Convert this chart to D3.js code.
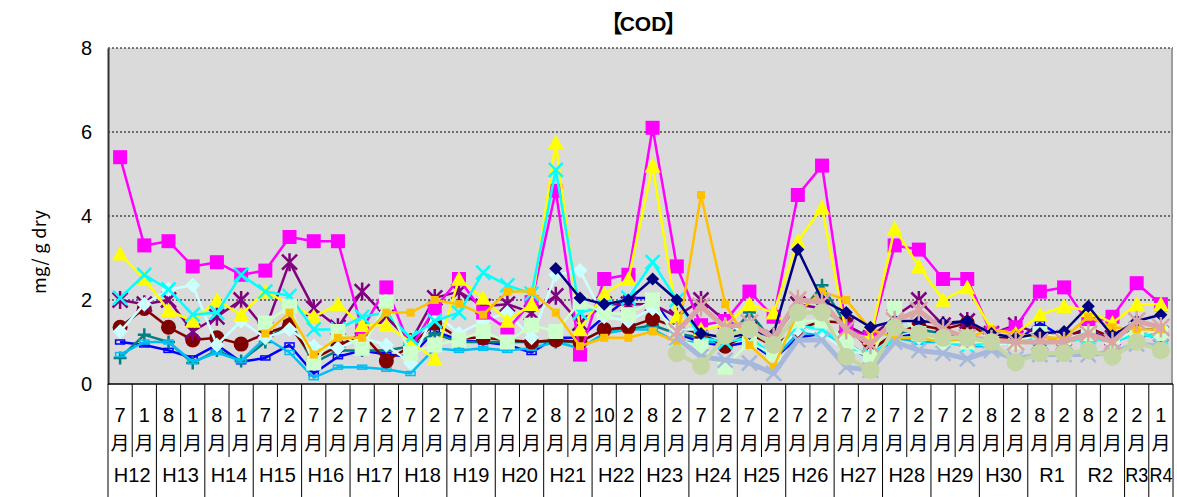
<!DOCTYPE html>
<html>
<head>
<meta charset="utf-8">
<script src="https://cdn.jsdelivr.net/npm/d3@7"></script>
<style>
  body { margin: 0; background: #fff; }
  svg { display: block; }
</style>
</head>
<body>
<div class="chart"></div>
<script>
// categories: month of sampling, grouped by fiscal year
const months = ["7","1","8","1","8","1","7","2","7","2",
                "7","2","7","2","7","2","7","2","8","2",
                "10","2","8","2","7","2","7","2","7","2",
                "7","2","7","2","7","2","8","2","8","2",
                "8","2","2","1"]
const yearNames = ["H12","H13","H14","H15","H16","H17","H18","H19","H20","H21","H22",
                   "H23","H24","H25","H26","H27","H28","H29","H30","R1","R2","R3","R4"]
const yearSpans = [2,2,2,2,2,2,2,2,2,2,2,2,2,2,2,2,2,2,2,2,2,1,1]
const yTicks = [0, 2, 4, 6, 8]

const _ = null
const magenta = [5.4,3.3,3.4,2.8,2.9,2.6,2.7,3.5,3.4,3.4,
                 1.3,2.3,0.85,1.8,2.5,1.7,1.3,1.95,4.6,0.7,
                 2.5,2.6,6.1,2.8,1.4,1.5,2.2,1.6,4.5,5.2,
                 1.3,1.1,3.3,3.2,2.5,2.5,1.2,1.35,2.2,2.3,
                 1.45,1.6,2.4,1.9]
const yellow = [3.1,2.5,1.75,1.5,2.0,1.65,2.2,1.9,1.6,1.9,
                1.4,1.4,1.0,0.6,2.5,2.05,1.5,1.9,5.75,1.3,
                2.15,2.5,5.2,1.6,1.3,1.4,1.9,1.7,3.4,4.2,
                1.2,1.1,3.7,2.8,2.0,2.3,1.3,1.2,1.65,1.85,
                1.75,1.45,1.9,1.9]
const cyan = [2.05,2.6,2.25,1.65,1.7,2.6,2.2,2.1,1.3,1.3,
              1.6,1.7,1.1,1.5,1.7,2.65,2.35,2.15,5.1,1.7,
              1.85,2.05,2.9,2.0,1.1,1.0,1.1,0.7,1.4,1.3,
              0.9,0.7,1.1,1.1,1.0,0.9,1.0,1.0,1.1,1.0,
              1.1,1.0,1.2,1.1]
const purple = [2.0,1.9,2.0,1.25,1.6,2.0,1.3,2.9,1.8,1.35,
                2.2,1.6,1.0,2.05,2.2,1.85,1.9,1.7,2.1,1.45,
                1.9,1.9,1.9,1.6,2.0,1.5,1.3,1.1,1.9,1.8,
                1.4,1.1,1.6,2.0,1.4,1.5,1.2,1.4,1.2,1.1,
                1.2,1.1,1.3,1.2]
const darkRed = [1.35,1.8,1.35,1.05,1.1,0.95,1.2,1.4,0.6,0.9,
                 1.2,0.55,0.9,1.45,1.1,1.1,1.05,1.0,1.05,1.0,
                 1.3,1.35,1.55,1.35,1.2,0.9,1.2,0.9,1.3,1.5,
                 1.45,0.8,1.2,1.4,1.3,1.45,1.1,1.1,1.0,1.1,
                 1.35,1.1,1.3,1.2]
const lightCyan = [1.25,1.9,2.25,2.35,0.93,1.5,1.1,1.3,0.9,0.85,
                   1.1,0.93,0.5,1.7,1.2,1.5,1.7,1.1,2.6,2.7,
                   1.6,1.5,1.8,1.3,1.3,1.5,1.1,0.7,1.3,1.2,
                   0.8,0.7,1.1,1.1,1.0,1.0,0.9,1.0,1.1,1.0,
                   1.1,1.0,1.3,1.2]
const blue = [1.0,0.93,0.8,0.62,0.93,0.53,0.62,0.93,0.25,0.65,
              0.8,0.7,0.65,1.25,1.05,1.0,0.93,0.75,1.1,1.1,
              1.6,2.05,2.05,1.2,1.0,0.9,1.0,0.6,1.1,1.2,
              1.0,0.6,1.1,1.2,1.0,1.1,1.0,1.0,1.45,1.1,
              1.3,1.0,1.3,1.3]
const teal = [0.62,1.17,1.0,0.5,0.8,0.55,1.0,1.5,0.5,0.8,
              0.8,0.8,0.9,1.2,1.0,1.0,1.0,1.0,1.0,1.0,
              1.3,1.3,1.4,1.2,1.1,1.0,1.7,1.0,1.6,2.35,
              1.4,0.8,1.2,1.3,1.2,1.1,1.0,1.0,1.1,1.0,
              1.2,1.0,1.2,1.1]
const skyBlue = [0.7,1.0,1.0,0.53,0.75,0.55,1.1,0.75,0.15,0.4,
                 0.4,0.35,0.25,0.85,0.8,0.85,0.8,0.85,1.0,0.85,
                 1.2,1.3,1.3,1.0,1.0,1.0,1.1,0.6,1.2,1.2,
                 0.9,0.6,1.1,1.0,1.0,0.9,0.9,1.0,1.0,1.0,
                 1.1,1.0,1.2,1.1]
const lightGreen = [_,_,_,_,_,_,1.45,1.85,0.5,1.25,
                    0.85,1.95,0.73,0.93,1.05,1.25,1.0,1.4,1.25,1.95,
                    1.7,1.65,2.0,1.05,0.9,0.4,1.0,0.7,1.5,1.5,
                    1.0,0.6,1.8,1.2,1.0,1.0,1.0,1.0,1.2,1.1,
                    1.2,1.0,1.3,1.2]
const orange = [_,_,_,_,_,_,1.2,1.7,0.7,1.1,
                1.1,1.7,1.7,2.0,1.9,1.65,2.2,2.2,1.7,0.9,
                1.1,1.1,1.25,1.0,4.5,1.9,0.93,0.4,1.7,2.2,
                2.0,1.3,1.1,1.1,1.0,1.1,1.3,1.2,1.1,1.1,
                1.6,1.35,1.3,1.3]
const navy = [_,_,_,_,_,_,_,_,_,_,
              _,_,_,_,_,_,_,_,2.75,2.05,
              1.9,2.0,2.5,2.0,1.2,1.1,1.2,1.2,3.2,2.0,
              1.7,1.35,1.5,1.5,1.45,1.5,1.2,1.1,1.2,1.25,
              1.85,1.15,1.5,1.65]
const steelBlue = [_,_,_,_,_,_,_,_,_,_,
                   _,_,_,_,_,_,_,_,_,_,
                   _,_,_,1.1,0.65,0.57,0.5,0.25,1.05,1.05,
                   0.4,0.33,1.0,0.8,0.73,0.6,0.8,0.6,0.7,0.7,
                   0.7,0.75,0.95,0.9]
const pink = [_,_,_,_,_,_,_,_,_,_,
              _,_,_,_,_,_,_,_,_,_,
              _,_,_,1.25,1.85,1.35,1.45,1.1,2.0,1.95,
              1.3,0.95,1.5,1.75,1.3,1.1,1.05,1.0,1.0,1.0,
              1.2,1.0,1.5,1.35]
const grayGreen = [_,_,_,_,_,_,_,_,_,_,
                   _,_,_,_,_,_,_,_,_,_,
                   _,_,_,0.73,0.43,1.15,1.3,0.93,1.7,1.7,
                   0.65,0.33,1.35,1.2,1.1,1.1,1.0,0.52,0.73,0.73,
                   0.8,0.65,1.0,0.8]

// draw order, bottom to top
const series = [
  { values: blue,       color: "#0000FF", marker: "dash",     size: 9,  width: 2.5 },
  { values: teal,       color: "#008080", marker: "plus",     size: 13, width: 2.5 },
  { values: skyBlue,    color: "#00BFF3", marker: "dash",     size: 9,  width: 2.5 },
  { values: darkRed,    color: "#800000", marker: "circle",   size: 15, width: 2.5 },
  { values: purple,     color: "#800080", marker: "star",     size: 15, width: 2.5 },
  { values: lightCyan,  color: "#CCFFFF", marker: "diamond",  size: 15, width: 2.5 },
  { values: magenta,    color: "#FF00FF", marker: "square",   size: 14, width: 2.5 },
  { values: yellow,     color: "#FFFF00", marker: "triangle", size: 16, width: 2.5 },
  { values: cyan,       color: "#00FFFF", marker: "x",        size: 14, width: 2.5 },
  { values: lightGreen, color: "#CCFFCC", marker: "square",   size: 15, width: 2.5 },
  { values: orange,     color: "#FFC000", marker: "square",   size: 8,  width: 2.5 },
  { values: navy,       color: "#000080", marker: "diamond",  size: 13, width: 2.5 },
  { values: steelBlue,  color: "#A6B9DD", marker: "x",        size: 15, width: 5 },
  { values: pink,       color: "#D9A6A6", marker: "star",     size: 17, width: 5 },
  { values: grayGreen,  color: "#C4D6A4", marker: "circle",   size: 18, width: 4 }
]

const width = 1177, height = 497
const plot = { left: 108, right: 1173, top: 48, bottom: 384 }
const cjk = "'Noto Sans CJK JP', sans-serif"
const latin = "'Liberation Sans', Arial, sans-serif"

const svg = d3.select(".chart").append("svg")
    .attr("width", width)
    .attr("height", height)

const x = d3.scaleBand()
    .domain(d3.range(months.length))
    .range([plot.left, plot.right])
const y = d3.scaleLinear()
    .domain([0, 8])
    .range([plot.bottom, plot.top])
const cx = i => x(i) + x.bandwidth() / 2

// plot background
svg.append("rect")
    .attr("x", plot.left).attr("y", plot.top)
    .attr("width", plot.right - plot.left).attr("height", plot.bottom - plot.top)
    .attr("fill", "#DADADA")

// gridlines
svg.append("g").selectAll("line")
    .data(yTicks.filter(t => t > 0))
    .enter().append("line")
    .attr("x1", plot.left).attr("x2", plot.right)
    .attr("y1", d => y(d)).attr("y2", d => y(d))
    .attr("stroke", "#000").attr("stroke-width", 1)
    .attr("stroke-dasharray", "2,2")

svg.append("line")
    .attr("x1", plot.right - 1).attr("x2", plot.right - 1)
    .attr("y1", plot.top).attr("y2", plot.bottom)
    .attr("stroke", "#888").attr("stroke-width", 1.5)

// y axis
const yAxis = svg.append("g")
    .attr("transform", `translate(${plot.left},0)`)
    .call(d3.axisLeft(y).tickValues(yTicks).tickSize(0).tickPadding(16))
yAxis.select(".domain").attr("stroke", "#333").attr("stroke-width", 2)
yAxis.selectAll("text")
    .attr("font-family", latin).attr("font-size", 20).attr("fill", "#000")

// x axis: base line, category separators and labels
svg.append("line")
    .attr("x1", plot.left).attr("x2", plot.right)
    .attr("y1", plot.bottom).attr("y2", plot.bottom)
    .attr("stroke", "#000").attr("stroke-width", 1.5)

const yearStarts = yearSpans.reduce((acc, s, i) => { acc.push(i === 0 ? 0 : acc[i - 1] + yearSpans[i - 1]); return acc }, [])
const isYearEdge = i => i === 0 || i === months.length || yearStarts.includes(i)

svg.append("g").selectAll("line")
    .data(d3.range(months.length + 1))
    .enter().append("line")
    .attr("x1", i => i < months.length ? x(i) : plot.right)
    .attr("x2", i => i < months.length ? x(i) : plot.right)
    .attr("y1", plot.bottom)
    .attr("y2", i => isYearEdge(i) ? height : 457)
    .attr("stroke", "#000").attr("stroke-width", 1)

const monthLabels = svg.append("g").attr("text-anchor", "middle")
monthLabels.selectAll(".num")
    .data(months)
    .enter().append("text")
    .attr("class", "num")
    .attr("x", (d, i) => cx(i))
    .attr("y", 422)
    .attr("font-family", latin).attr("font-size", 20)
    .attr("textLength", d => d.length > 1 ? 21 : null)
    .attr("lengthAdjust", "spacingAndGlyphs")
    .text(d => d)
monthLabels.selectAll(".tsuki")
    .data(months)
    .enter().append("text")
    .attr("class", "tsuki")
    .attr("x", (d, i) => cx(i))
    .attr("y", 450)
    .attr("font-family", cjk).attr("font-size", 19)
    .text("月")

svg.append("g")
    .attr("font-family", latin).attr("font-size", 20).attr("text-anchor", "middle")
    .selectAll("text")
    .data(yearNames)
    .enter().append("text")
    .attr("x", (d, i) => x(yearStarts[i]) + x.bandwidth() * yearSpans[i] / 2)
    .attr("y", 482)
    .attr("textLength", (d, i) => yearSpans[i] === 1 ? 23 : null)
    .attr("lengthAdjust", "spacingAndGlyphs")
    .text(d => d)

// title (brackets and text set apart) and axis title
const title = svg.append("g").attr("text-anchor", "middle")
title.append("text")
    .attr("x", 643).attr("y", 31)
    .attr("font-family", latin).attr("font-size", 21).attr("font-weight", "bold")
    .text("COD")
title.append("text")
    .attr("x", 611).attr("y", 32)
    .attr("font-family", cjk).attr("font-size", 24)
    .text("【")
title.append("text")
    .attr("x", 676).attr("y", 32)
    .attr("font-family", cjk).attr("font-size", 24)
    .text("】")

svg.append("text")
    .attr("transform", "translate(46,252) rotate(-90)")
    .attr("text-anchor", "middle")
    .attr("font-family", cjk).attr("font-size", 18)
    .attr("textLength", 84)
    .attr("lengthAdjust", "spacing")
    .text("mg/ g dry")

// series
const line = d3.line()
    .defined(d => d.v != null)
    .x(d => cx(d.i))
    .y(d => y(d.v))

function drawMarker(g, s) {
    const h = s.size / 2
    if (s.marker === "circle") {
        g.append("circle").attr("r", h).attr("fill", s.color)
    } else if (s.marker === "square") {
        g.append("rect").attr("x", -h).attr("y", -h).attr("width", s.size).attr("height", s.size).attr("fill", s.color)
    } else if (s.marker === "diamond") {
        g.append("path").attr("d", `M0,${-h}L${h},0L0,${h}L${-h},0Z`).attr("fill", s.color)
    } else if (s.marker === "triangle") {
        g.append("path").attr("d", `M0,${-h}L${h},${h * 0.85}L${-h},${h * 0.85}Z`).attr("fill", s.color)
    } else if (s.marker === "dash") {
        g.append("rect").attr("x", -h).attr("y", -2).attr("width", s.size).attr("height", 4)
            .attr("fill", "none").attr("stroke", s.color).attr("stroke-width", 1.5)
    } else {
        let d = ""
        if (s.marker === "x" || s.marker === "star") d += `M${-h},${-h}L${h},${h}M${-h},${h}L${h},${-h}`
        if (s.marker === "plus") d += `M${-h},0L${h},0M0,${-h}L0,${h}`
        if (s.marker === "star") d += `M0,${-h * 1.2}L0,${h * 1.2}`
        g.append("path").attr("d", d).attr("fill", "none")
            .attr("stroke", s.color).attr("stroke-width", 2.5)
    }
}

series.forEach(s => {
    const pts = s.values.map((v, i) => ({ i, v }))
    const g = svg.append("g")
    g.append("path")
        .datum(pts)
        .attr("d", line)
        .attr("fill", "none")
        .attr("stroke", s.color)
        .attr("stroke-width", s.width)
        .attr("stroke-linejoin", "round")
    pts.filter(p => p.v != null).forEach(p => {
        const m = g.append("g").attr("transform", `translate(${cx(p.i)},${y(p.v)})`)
        drawMarker(m, s)
    })
})
</script>
</body>
</html>
